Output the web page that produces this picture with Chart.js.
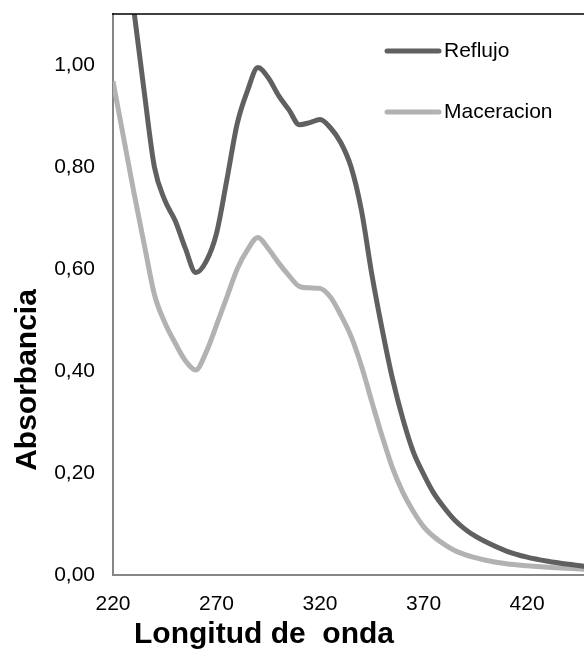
<!DOCTYPE html>
<html>
<head>
<meta charset="utf-8">
<script src="https://cdn.jsdelivr.net/npm/chart.js@4.4.0/dist/chart.umd.min.js"></script>
<style>
  html, body { margin: 0; padding: 0; background: #fff; }
  #wrap { width: 584px; height: 656px; }
</style>
</head>
<body>
<div id="wrap"><canvas id="grafico"></canvas></div>
<script>
// Datos
const longitudes = [220, 225, 230, 235, 240, 245, 250, 255, 260, 265, 270, 275, 280, 285, 290, 295,
    300, 305, 310, 315, 320, 325, 330, 335, 340, 345, 350, 355, 360, 365, 370, 375, 380, 385,
    390, 395, 400, 410, 420, 430, 440, 450];
const reflujo = [1.50, 1.28, 1.11, 0.95, 0.80, 0.735, 0.695, 0.64, 0.593, 0.615, 0.67, 0.775, 0.885, 0.95, 0.995, 0.975,
    0.94, 0.912, 0.883, 0.887, 0.893, 0.877, 0.848, 0.80, 0.715, 0.590, 0.482, 0.385, 0.306, 0.242, 0.198, 0.16, 0.132, 0.108,
    0.09, 0.076, 0.065, 0.047, 0.035, 0.027, 0.021, 0.016];
const maceracion = [0.968, 0.86, 0.752, 0.65, 0.55, 0.495, 0.455, 0.42, 0.402, 0.437, 0.49, 0.545, 0.60, 0.638, 0.662, 0.64,
    0.612, 0.587, 0.566, 0.563, 0.562, 0.545, 0.51, 0.468, 0.41, 0.34, 0.272, 0.21, 0.162, 0.125, 0.095, 0.075, 0.06, 0.048,
    0.04, 0.034, 0.029, 0.022, 0.018, 0.015, 0.013, 0.011];
const ticksX = [220, 270, 320, 370, 420];
const ticksY = [0, 0.2, 0.4, 0.6, 0.8, 1.0];

const fuente = "'Liberation Sans', Arial, sans-serif";
const colorReflujo = '#606060';
const colorMaceracion = '#b2b2b2';

// Titulos, borde superior y leyenda dibujados a mano
const extras = {
    id: 'extras',
    afterDraw(chart) {
        const ctx = chart.ctx;
        const area = chart.chartArea;
        ctx.save();
        // borde superior
        ctx.strokeStyle = '#000';
        ctx.lineWidth = 1.5;
        ctx.beginPath();
        ctx.moveTo(area.left - 1, area.top);
        ctx.lineTo(area.right, area.top);
        ctx.stroke();

        // leyenda
        const items = [
            { texto: 'Reflujo', color: colorReflujo, y: 51 },
            { texto: 'Maceracion', color: colorMaceracion, y: 112 }
        ];
        ctx.lineCap = 'round';
        ctx.lineWidth = 5;
        ctx.font = '21px ' + fuente;
        ctx.textBaseline = 'middle';
        ctx.textAlign = 'left';
        items.forEach(it => {
            ctx.strokeStyle = it.color;
            ctx.beginPath();
            ctx.moveTo(387, it.y);
            ctx.lineTo(439, it.y);
            ctx.stroke();
            ctx.fillStyle = '#000';
            ctx.fillText(it.texto, 444, it.y);
        });

        // titulos de ejes
        ctx.font = 'bold 30px ' + fuente;
        ctx.fillStyle = '#000';
        ctx.textAlign = 'center';
        ctx.fillText('Longitud de  onda', 264, 635);
        ctx.translate(28, 380);
        ctx.rotate(-Math.PI / 2);
        ctx.fillText('Absorbancia', 0, 0);
        ctx.restore();
    }
};

new Chart(document.getElementById('grafico'), {
    type: 'line',
    data: {
        labels: longitudes,
        datasets: [{
            label: 'Reflujo',
            data: longitudes.map((x, i) => ({ x: x, y: reflujo[i] })),
            borderColor: colorReflujo,
            borderWidth: 5,
            pointRadius: 0,
            cubicInterpolationMode: 'monotone',
            fill: false
        }, {
            label: 'Maceracion',
            data: longitudes.map((x, i) => ({ x: x, y: maceracion[i] })),
            borderColor: colorMaceracion,
            borderWidth: 5,
            pointRadius: 0,
            cubicInterpolationMode: 'monotone',
            fill: false
        }]
    },
    options: {
        responsive: true,
        maintainAspectRatio: false,
        animation: false,
        layout: { padding: { top: 14, right: 0, left: 0, bottom: 0 } },
        plugins: {
            legend: { display: false },
            tooltip: { enabled: false }
        },
        scales: {
            x: {
                type: 'linear',
                min: 220,
                max: 447.5,
                grid: { display: false },
                border: { display: true, color: '#868686', width: 2 },
                afterBuildTicks: axis => { axis.ticks = ticksX.map(v => ({ value: v })); },
                afterFit: axis => { axis.height = 81; axis.paddingRight = 0; },
                ticks: {
                    color: '#000',
                    padding: 9,
                    maxRotation: 0,
                    font: { family: fuente, size: 21 }
                }
            },
            y: {
                min: 0,
                max: 1.1,
                grid: { display: false },
                border: { display: true, color: '#868686', width: 2 },
                afterBuildTicks: axis => { axis.ticks = ticksY.map(v => ({ value: v })); },
                afterFit: axis => { axis.width = 113; axis.paddingTop = 0; axis.paddingBottom = 0; },
                ticks: {
                    color: '#000',
                    padding: 10,
                    font: { family: fuente, size: 21 },
                    callback: v => v.toFixed(2).replace('.', ',')
                }
            }
        }
    },
    plugins: [extras]
});
</script>
</body>
</html>
